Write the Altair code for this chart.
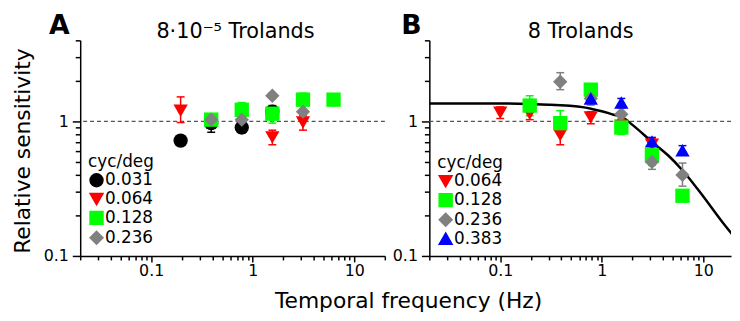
import altair as alt
import pandas as pd

FONT = "DejaVu Sans"

# ---------------- Panel A (8e-5 Trolands) ----------------
A_labels = ["0.031", "0.064", "0.128", "0.236"]
A_colors = ["#000000", "#ff0000", "#00ff00", "#808080"]
A_shapes = ["circle", "triangle-down", "square", "diamond"]

A_031_f = [0.195, 0.39, 0.78, 1.56]
A_031_s = [0.72, 0.97, 0.90, 1.18]
A_031_lo = [0.70, 0.83, 0.82, 1.07]
A_031_hi = [0.74, 1.08, 0.97, 1.31]

A_064_f = [0.195, 1.56, 3.125]
A_064_s = [1.20, 0.76, 0.98]
A_064_lo = [0.98, 0.67, 0.86]
A_064_hi = [1.52, 0.86, 1.10]

A_128_f = [0.39, 0.78, 1.56, 3.125, 6.25]
A_128_s = [1.03, 1.22, 1.14, 1.45, 1.45]
A_128_lo = [0.94, 1.08, 0.97, 1.30, 1.32]
A_128_hi = [1.13, 1.38, 1.28, 1.62, 1.57]

A_236_f = [0.39, 0.78, 1.56, 3.125]
A_236_s = [1.03, 1.03, 1.55, 1.18]
A_236_lo = [0.98, 0.98, 1.48, 1.13]
A_236_hi = [1.08, 1.08, 1.62, 1.23]

# ---------------- Panel B (8 Trolands) ----------------
B_labels = ["0.064", "0.128", "0.236", "0.383"]
B_colors = ["#ff0000", "#00ff00", "#808080", "#0000ff"]
B_shapes = ["triangle-down", "square", "diamond", "triangle-up"]

B_064_f = [0.1, 0.195, 0.39, 0.78, 1.56, 3.125]
B_064_s = [1.16, 1.14, 0.79, 1.07, 0.93, 0.67]
B_064_lo = [1.05, 1.03, 0.67, 0.96, 0.82, 0.61]
B_064_hi = [1.28, 1.25, 0.92, 1.18, 1.04, 0.74]

B_128_f = [0.195, 0.39, 0.78, 1.56, 3.125, 6.25]
B_128_s = [1.31, 0.97, 1.72, 0.90, 0.56, 0.28]
B_128_lo = [1.10, 0.80, 1.56, 0.80, 0.47, 0.255]
B_128_hi = [1.55, 1.20, 1.88, 1.00, 0.65, 0.31]

B_236_f = [0.39, 0.78, 1.56, 3.125, 6.25]
B_236_s = [1.97, 1.48, 1.13, 0.50, 0.40]
B_236_lo = [1.72, 1.32, 1.02, 0.44, 0.33]
B_236_hi = [2.30, 1.64, 1.25, 0.57, 0.49]

B_383_f = [0.78, 1.56, 3.125, 6.25]
B_383_s = [1.48, 1.38, 0.71, 0.61]
B_383_lo = [1.36, 1.28, 0.66, 0.56]
B_383_hi = [1.62, 1.48, 0.76, 0.66]

# fitted curve in panel B
fit_f = [0.02, 0.07, 0.3, 0.67, 0.84, 1.0, 1.31, 1.57, 2.05, 3.15, 4.5, 6.3, 9.9, 15.5, 20]
fit_s = [1.36, 1.36, 1.33, 1.27, 1.225, 1.19, 1.12, 1.08, 0.93, 0.70, 0.56, 0.43, 0.28, 0.178, 0.14]

X_TICKS = [0.02, 0.03, 0.04, 0.05, 0.06, 0.07, 0.08, 0.09,
           0.1, 0.2, 0.3, 0.4, 0.5, 0.6, 0.7, 0.8, 0.9,
           1, 2, 3, 4, 5, 6, 7, 8, 9, 10, 20]
Y_TICKS = [0.1, 0.2, 0.3, 0.4, 0.5, 0.6, 0.7, 0.8, 0.9, 1, 2, 3, 4]

H = 218


def frame(series):
    rows = []
    for lab, f, s, lo, hi in series:
        for a, b, c, d in zip(f, s, lo, hi):
            rows.append({"cpd": lab, "f": a, "s": b, "lo": c, "hi": d})
    return pd.DataFrame(rows)


def txt(s, x, y, size, weight="normal", angle=0, baseline="alphabetic"):
    return alt.Chart(pd.DataFrame({"t": [s]})).mark_text(
        text=s, font=FONT, fontSize=size, fontWeight=weight, angle=angle,
        align="center", baseline=baseline, color="black"
    ).encode(x=alt.value(x), y=alt.value(y))


def panel(df, labels, colors, shapes, xmax, width, title, title_x, letter, letter_x,
          curve=None, extra_text=()):
    xsc = alt.Scale(type="log", domain=[0.02, xmax], nice=False)
    ysc = alt.Scale(type="log", domain=[0.1, 4], nice=False)
    xaxis = alt.Axis(
        values=[v for v in X_TICKS if v <= xmax], title=None, grid=False,
        labelExpr="datum.value == 0.1 ? '0.1' : datum.value == 1 ? '1' : datum.value == 10 ? '10' : ''",
        tickSize={"condition": {"test": "datum.value == 0.1 || datum.value == 1 || datum.value == 10", "value": 6}, "value": 4},
        labelPadding=1,
    )
    yaxis = alt.Axis(
        values=Y_TICKS, title=None, grid=False,
        labelExpr="datum.value == 0.1 ? '0.1' : datum.value == 1 ? '1' : ''",
        tickSize={"condition": {"test": "datum.value == 0.1 || datum.value == 1", "value": 8}, "value": 5},
        labelPadding=4,
    )
    X = alt.X("f:Q", scale=xsc, axis=xaxis)
    Y = alt.Y("s:Q", scale=ysc, axis=yaxis)
    legend = alt.Legend(
        title="cyc/deg", orient="bottom-left", offset=8, padding=0,
        titleFont=FONT, titleFontSize=17, titleFontWeight="normal", titleColor="black",
        titlePadding=1, labelFont=FONT, labelFontSize=17, labelColor="black",
        symbolSize=170, labelOffset=0, rowPadding=-1,
    )
    color = alt.Color("cpd:N", scale=alt.Scale(domain=labels, range=colors), legend=legend)
    shape = alt.Shape("cpd:N", scale=alt.Scale(domain=labels, range=shapes), legend=legend)

    layers = []
    layers.append(
        alt.Chart(pd.DataFrame({"d": [1]})).mark_rule(
            color="#555555", strokeDash=[4, 3], strokeWidth=1.2
        ).encode(y=alt.YDatum(1, type="quantitative", scale=ysc, axis=yaxis))
    )
    if curve is not None:
        layers.append(
            alt.Chart(curve).mark_line(color="black", strokeWidth=2.5, clip=True,
                                       interpolate="monotone").encode(x=X, y=Y)
        )
    layers.append(
        alt.Chart(df).mark_rule(strokeWidth=1.5).encode(
            x=X, y=alt.Y("lo:Q", scale=ysc, axis=yaxis), y2="hi:Q", color=color)
    )
    layers.append(
        alt.Chart(df).mark_rule(strokeWidth=1.5, xOffset=-4, x2Offset=4).encode(
            x=X, x2="f:Q", y=alt.Y("hi:Q", scale=ysc, axis=yaxis), color=color)
    )
    layers.append(
        alt.Chart(df).mark_rule(strokeWidth=1.5, xOffset=-4, x2Offset=4).encode(
            x=X, x2="f:Q", y=alt.Y("lo:Q", scale=ysc, axis=yaxis), color=color)
    )
    layers.append(
        alt.Chart(df).mark_point(filled=True, size=210, opacity=1).encode(
            x=X, y=Y, color=color, shape=shape)
    )
    layers.append(txt(title, title_x, -2, 21))
    layers.append(txt(letter, letter_x, -6, 27, weight="bold"))
    layers.extend(extra_text)
    return alt.layer(*layers).properties(width=width, height=H)


dfA = frame([
    ("0.031", A_031_f, A_031_s, A_031_lo, A_031_hi),
    ("0.064", A_064_f, A_064_s, A_064_lo, A_064_hi),
    ("0.128", A_128_f, A_128_s, A_128_lo, A_128_hi),
    ("0.236", A_236_f, A_236_s, A_236_lo, A_236_hi),
])
dfB = frame([
    ("0.064", B_064_f, B_064_s, B_064_lo, B_064_hi),
    ("0.128", B_128_f, B_128_s, B_128_lo, B_128_hi),
    ("0.236", B_236_f, B_236_s, B_236_lo, B_236_hi),
    ("0.383", B_383_f, B_383_s, B_383_lo, B_383_hi),
])
curve = pd.DataFrame({"f": fit_f, "s": fit_s})

pA = panel(dfA, A_labels, A_colors, A_shapes, 20, 308, "8·10⁻⁵ Trolands", 157, "A", -21,
           extra_text=[
               txt("Relative sensitivity", -58, 112, 22, angle=270, baseline="middle"),
               txt("Temporal frequency (Hz)", 332, 271, 22),
           ])
pB = panel(dfB, B_labels, B_colors, B_shapes, 18.8, 305, "8 Trolands", 153, "B", -18,
           curve=curve)

chart = alt.hconcat(pA, pB, spacing=45, bounds="flush").resolve_scale(
    color="independent", shape="independent"
).properties(
    padding={"left": 3, "top": 3, "right": 0, "bottom": 0}
).configure_view(stroke=None).configure_axis(
    domainColor="black", domainWidth=1.5, tickColor="black", tickWidth=1.5,
    labelFont=FONT, labelFontSize=16, labelColor="black",
)

chart.save("out.html", embed_options={"renderer": "svg", "actions": False})
